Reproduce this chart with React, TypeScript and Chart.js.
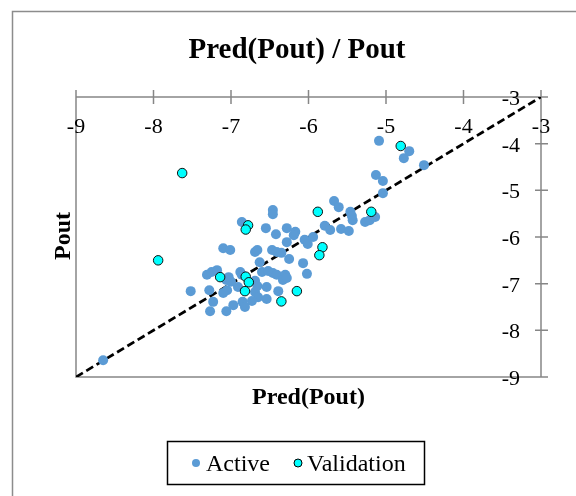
import React, { useEffect, useRef } from "react";
import { Chart, registerables } from "chart.js";

Chart.register(...registerables);

// ---- data ----
const chartTitle = "Pred(Pout) / Pout";
const xAxisTitle = "Pred(Pout)";
const yAxisTitle = "Pout";
const seriesNames = ["Active", "Validation"];

const xTicks = [-9, -8, -7, -6, -5, -4, -3];
const yTicks = [-9, -8, -7, -6, -5, -4, -3];

const activeX = [
  -5.09, -4.70, -4.77, -4.51, -5.13, -5.04, -5.04, -5.67, -5.61, -5.46,
  -5.44, -5.43, -5.27, -5.21, -5.14, -5.79, -5.72, -5.58, -5.48, -5.94,
  -6.05, -6.01, -6.46, -6.46, -6.86, -6.55, -6.28, -6.17, -6.19, -6.42,
  -6.28, -7.10, -7.01, -6.69, -6.66, -6.47, -6.41, -6.35, -6.63, -6.25,
  -6.07, -7.31, -7.25, -7.18, -7.03, -7.06, -7.00, -6.88, -6.86, -6.60,
  -6.52, -6.46, -6.41, -6.30, -6.33, -6.28, -6.02, -7.52, -7.28, -7.05,
  -7.10, -6.91, -6.69, -6.66, -6.69, -6.65, -6.39, -6.54, -7.23, -6.54,
  -6.73, -6.85, -6.82, -6.97, -7.27, -7.06, -8.65,
];
const activeY = [
  -3.94, -4.16, -4.31, -4.46, -4.67, -4.80, -5.06, -5.23, -5.36, -5.46,
  -5.55, -5.64, -5.68, -5.64, -5.57, -5.76, -5.85, -5.83, -5.87, -6.00,
  -6.06, -6.15, -5.42, -5.51, -5.68, -5.81, -5.81, -5.89, -5.96, -5.94,
  -6.11, -6.24, -6.28, -6.32, -6.28, -6.28, -6.32, -6.34, -6.54, -6.47,
  -6.56, -6.81, -6.75, -6.71, -6.86, -6.92, -6.96, -6.75, -6.81, -6.75,
  -6.73, -6.77, -6.81, -6.81, -6.92, -6.88, -6.79, -7.16, -7.14, -7.14,
  -7.20, -7.07, -6.94, -7.05, -7.18, -7.29, -7.16, -7.07, -7.39, -7.33,
  -7.37, -7.39, -7.50, -7.46, -7.59, -7.59, -8.64,
];

const validationX = [
  -7.63, -7.94, -7.14, -6.78, -6.81, -6.81, -6.77, -6.82, -6.35, -6.15,
  -5.88, -5.19, -5.82, -5.86, -4.81,
];
const validationY = [
  -4.63, -6.50, -6.86, -5.75, -5.84, -6.85, -6.97, -7.16, -7.38, -7.16,
  -5.46, -5.46, -6.22, -6.39, -4.05,
];

const refLineX = [-9, -3];
const refLineY = [-9, -3];

// ---- styles ----
const FONT = '"Liberation Serif", "Times New Roman", serif';
const ACTIVE_COLOR = "#5B9BD5";
const VALID_COLOR = "#00FFFF";
const AXIS_COLOR = "#868686";

const zip = (xs: number[], ys: number[]) => xs.map((x, i) => ({ x, y: ys[i] }));

const excelPlugin = {
  id: "excelDecor",
  beforeDatasetsDraw(chart: any) {
    const { ctx, scales } = chart;
    const xs = scales.x;
    const ys = scales.y;
    const left = xs.getPixelForValue(xTicks[0]);
    const right = xs.getPixelForValue(xTicks[xTicks.length - 1]);
    const top = ys.getPixelForValue(yTicks[yTicks.length - 1]);
    const bottom = ys.getPixelForValue(yTicks[0]);
    ctx.save();
    // outer frame
    ctx.strokeStyle = "#8c8c8c";
    ctx.lineWidth = 1.5;
    ctx.beginPath();
    ctx.moveTo(12.5, 500);
    ctx.lineTo(12.5, 11.5);
    ctx.lineTo(580, 11.5);
    ctx.stroke();

    // plot borders (left, bottom) and axes (top, right)
    ctx.strokeStyle = AXIS_COLOR;
    ctx.lineWidth = 1.5;
    ctx.beginPath();
    ctx.moveTo(left, top);
    ctx.lineTo(left, bottom);
    ctx.lineTo(right, bottom);
    ctx.moveTo(left, top);
    ctx.lineTo(right, top);
    ctx.lineTo(right, bottom);
    // tick marks
    xTicks.forEach((t) => {
      const px = xs.getPixelForValue(t);
      ctx.moveTo(px, top - 7);
      ctx.lineTo(px, top + 7);
    });
    yTicks.forEach((t) => {
      const py = ys.getPixelForValue(t);
      ctx.moveTo(right - 6, py);
      ctx.lineTo(right + 7, py);
    });
    ctx.stroke();

    // tick labels
    ctx.fillStyle = "#000";
    ctx.font = `22px ${FONT}`;
    ctx.textBaseline = "alphabetic";
    ctx.textAlign = "center";
    xTicks.forEach((t) => {
      ctx.fillText(String(t), xs.getPixelForValue(t), top + 36);
    });
    ctx.textAlign = "right";
    yTicks.forEach((t) => {
      ctx.fillText(String(t), right - 21, ys.getPixelForValue(t) + 8);
    });
    ctx.restore();
  },
  afterDraw(chart: any) {
    const { ctx, chartArea } = chart;
    ctx.save();
    ctx.fillStyle = "#000";
    ctx.textBaseline = "alphabetic";
    // chart title
    ctx.font = `bold 29px ${FONT}`;
    ctx.textAlign = "center";
    ctx.fillText(chartTitle, 297, 58);
    // axis titles
    ctx.font = `bold 24px ${FONT}`;
    ctx.fillText(xAxisTitle, (chartArea.left + chartArea.right) / 2, 404);
    ctx.save();
    ctx.translate(70, (chartArea.top + chartArea.bottom) / 2 - 1);
    ctx.rotate(-Math.PI / 2);
    ctx.fillText(yAxisTitle, 0, 0);
    ctx.restore();

    // legend
    ctx.strokeStyle = "#000";
    ctx.lineWidth = 1.5;
    ctx.strokeRect(167.5, 441.5, 257, 43);
    ctx.font = `24px ${FONT}`;
    ctx.textAlign = "left";
    ctx.beginPath();
    ctx.fillStyle = ACTIVE_COLOR;
    ctx.arc(196, 463, 4, 0, Math.PI * 2);
    ctx.fill();
    ctx.beginPath();
    ctx.fillStyle = VALID_COLOR;
    ctx.arc(298, 463, 4, 0, Math.PI * 2);
    ctx.fill();
    ctx.lineWidth = 1;
    ctx.stroke();
    ctx.fillStyle = "#000";
    ctx.fillText(seriesNames[0], 206, 471);
    ctx.fillText(seriesNames[1], 307, 471);
    ctx.restore();
  },
};

export default function App() {
  const ref = useRef<HTMLCanvasElement | null>(null);
  useEffect(() => {
    if (!ref.current) return;
    const chart = new Chart(ref.current, {
      type: "scatter",
      data: {
        datasets: [
          {
            label: seriesNames[1],
            data: zip(validationX, validationY),
            backgroundColor: VALID_COLOR,
            borderColor: "#111",
            borderWidth: 1,
            pointRadius: 4.75,
            order: 0,
          },
          {
            label: seriesNames[0],
            data: zip(activeX, activeY),
            backgroundColor: ACTIVE_COLOR,
            borderColor: ACTIVE_COLOR,
            borderWidth: 0,
            pointRadius: 5,
            order: 1,
          },
          {
            type: "line",
            label: "y = x",
            data: zip(refLineX, refLineY),
            borderColor: "#000",
            borderWidth: 2.75,
            borderDash: [8, 4],
            pointRadius: 0,
            fill: false,
            order: 2,
          } as any,
        ],
      },
      options: {
        responsive: false,
        maintainAspectRatio: false,
        animation: false,
        layout: { padding: { left: 76, top: 97, right: 35, bottom: 119 } },
        scales: {
          x: { type: "linear", min: -9, max: -3, display: false },
          y: { type: "linear", min: -9, max: -3, display: false },
        },
        plugins: {
          legend: { display: false },
          title: { display: false },
          tooltip: { enabled: false },
        },
      },
      plugins: [excelPlugin],
    });
    return () => chart.destroy();
  }, []);
  return (
    <canvas
      ref={ref}
      width={576}
      height={496}
      style={{ position: "fixed", left: 0, top: 0, background: "#fff" }}
    />
  );
}
